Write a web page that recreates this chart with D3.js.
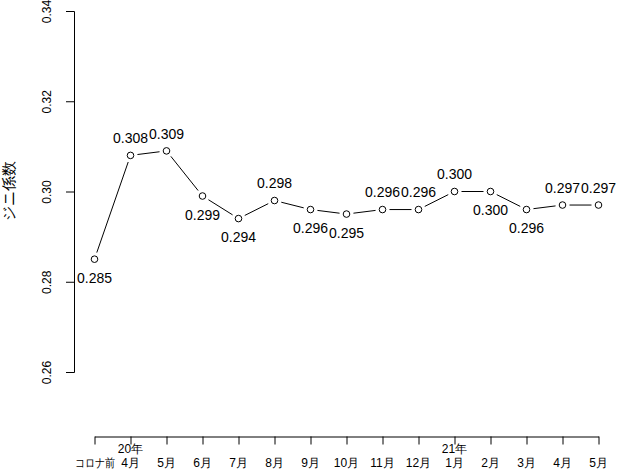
<!DOCTYPE html>
<html><head><meta charset="utf-8">
<script src="https://cdn.jsdelivr.net/npm/d3@7"></script>
<style>body{margin:0;background:#fff}svg{display:block}text{font-family:"Liberation Sans",Arial,sans-serif}</style>
</head><body>
<script>
const yearLabels = ["", "20年", "", "", "", "", "", "", "", "", "21年", "", "", "", ""];
const monthLabels = ["コロナ前", "4月", "5月", "6月", "7月", "8月", "9月", "10月", "11月", "12月", "1月", "2月", "3月", "4月", "5月"];
const gini = [0.285, 0.308, 0.309, 0.299, 0.294, 0.298, 0.296, 0.295, 0.296, 0.296, 0.300, 0.300, 0.296, 0.297, 0.297];
const labelPos = ["below","above","above","below","below","above","below","below","above","above","above","below","below","above","above"];
const yTicks = [0.26, 0.28, 0.30, 0.32, 0.34];

const W = 617, H = 472;
const svg = d3.select("body").append("svg").attr("width", W).attr("height", H);
const x = d3.scalePoint().domain(d3.range(gini.length)).range([94.5, 598.5]);
const y = d3.scaleLinear().domain([0.26, 0.34]).range([372, 11]);

// y axis
const yAxis = svg.append("g").attr("transform", "translate(74,0)")
  .call(d3.axisLeft(y).tickValues(yTicks).tickFormat(d3.format(".2f")).tickSizeOuter(0).tickSize(8));
yAxis.select(".domain").attr("stroke", "#000");
yAxis.selectAll(".tick line").attr("stroke", "#000");
yAxis.selectAll(".tick text").attr("font-size", 12).attr("fill", "#000")
  .attr("text-anchor", "middle").attr("x", 0).attr("y", 0).attr("dy", "0.35em")
  .attr("transform", "translate(-27,0) rotate(-90)");

// y title
svg.append("text").attr("transform", `translate(9,191) rotate(-90)`)
  .attr("text-anchor", "middle").attr("dy", "0.35em").attr("font-size", 15)
  .attr("font-family", "'Noto Sans CJK JP',sans-serif").text("ジニ係数");

// x axis
const xAxis = svg.append("g").attr("transform", "translate(0,436.5)")
  .call(d3.axisBottom(x).tickSize(8).tickSizeOuter(0).tickFormat(""));
xAxis.select(".domain").attr("stroke", "#000");
xAxis.selectAll(".tick line").attr("stroke", "#000");
const xl = svg.append("g");
xl.selectAll("text.yr").data(yearLabels).join("text").attr("class","yr")
  .attr("x", (d,i) => x(i)).attr("y", 453).attr("text-anchor","middle")
  .attr("font-size", 12).attr("font-family","'Noto Sans CJK JP',sans-serif").text(d => d);
xl.selectAll("text.mo").data(monthLabels).join("text").attr("class","mo")
  .attr("x", (d,i) => x(i)).attr("y", 467).attr("text-anchor","middle")
  .attr("font-size", 12).attr("font-family","'Noto Sans CJK JP',sans-serif").text(d => d)
  .each(function(d){ if (d.length > 3) d3.select(this).attr("textLength", 40).attr("lengthAdjust", "spacingAndGlyphs"); });

// lines with gaps (type = "b")
const gap = 7;
const segs = d3.range(gini.length - 1).map(i => {
  const x1 = x(i), y1 = y(gini[i]), x2 = x(i+1), y2 = y(gini[i+1]);
  const dx = x2 - x1, dy = y2 - y1, L = Math.hypot(dx, dy);
  const ux = dx / L, uy = dy / L;
  return {x1: x1 + ux*gap, y1: y1 + uy*gap, x2: x2 - ux*gap, y2: y2 - uy*gap};
});
svg.append("g").selectAll("line").data(segs).join("line")
  .attr("x1", d => d.x1).attr("y1", d => d.y1).attr("x2", d => d.x2).attr("y2", d => d.y2)
  .attr("stroke", "#000").attr("stroke-width", 1);

svg.append("g").selectAll("circle").data(gini).join("circle")
  .attr("cx", (d,i) => x(i)).attr("cy", d => y(d)).attr("r", 3.3)
  .attr("fill", "none").attr("stroke", "#000").attr("stroke-width", 1);

svg.append("g").selectAll("text").data(gini).join("text")
  .attr("x", (d,i) => x(i))
  .attr("y", (d,i) => y(d) + (labelPos[i] === "below" ? 19 : -17))
  .attr("dy", "0.35em").attr("text-anchor", "middle").attr("font-size", 14)
  .attr("fill", "#000").text(d => d3.format(".3f")(d));
</script>
</body></html>
